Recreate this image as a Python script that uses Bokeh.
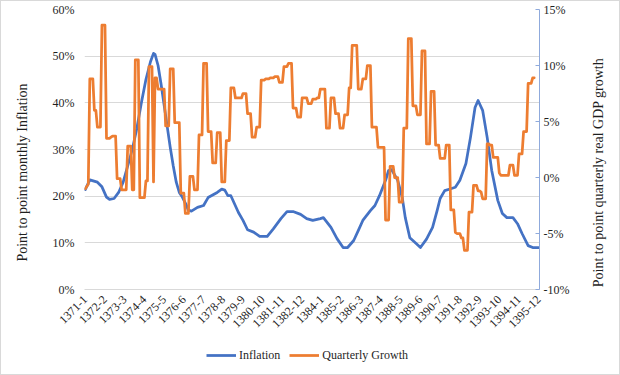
import math
import numpy as np
from bokeh.plotting import figure
from bokeh.layouts import column, row
from bokeh.models import (Range1d, LinearAxis, FixedTicker, PrintfTickFormatter,
                          Legend, LegendItem, Label)
from bokeh.embed import file_html
from bokeh.resources import INLINE

# ---------------- data ----------------
# x-axis tick labels (Persian year-month), one every 13 months
TICK_LABELS = ["1371-1", "1372-2", "1373-3", "1374-4", "1375-5", "1376-6", "1377-7",
               "1378-8", "1379-9", "1380-10", "1381-11", "1382-12", "1384-1", "1385-2",
               "1386-3", "1387-4", "1388-5", "1389-6", "1390-7", "1391-8", "1392-9",
               "1393-10", "1394-11", "1395-12"]
TICK_MONTH = [0, 13, 26, 39, 52, 65, 78, 91, 104, 117, 130, 143, 156, 169,
              182, 195, 208, 221, 234, 247, 260, 273, 286, 299]

# Point to point monthly inflation (%), month index since 1371-1
INF_MONTH = [0, 3, 8, 11, 14, 16, 19, 22, 25, 28, 31, 34, 37, 40, 43, 45, 46, 48, 50, 52,
             54, 56, 58, 60, 62, 64, 66, 68, 70, 74, 78, 81, 87, 90, 92, 94, 96, 101, 104,
             107, 111, 115, 120, 124, 129, 133, 137, 142, 146, 150, 155, 157, 162, 166,
             170, 173, 177, 180, 183, 188, 191, 194, 198, 200, 202, 206, 209, 211, 214,
             218, 221, 225, 229, 232, 234, 237, 241, 244, 247, 251, 254, 257, 259, 262,
             265, 268, 272, 275, 278, 282, 285, 288, 292, 295, 299]
INF_VAL = [21.4, 23.5, 23.0, 22.0, 19.8, 19.3, 19.5, 20.8, 23.0, 26.5, 30.0, 34.5, 40.0,
           45.0, 48.8, 50.6, 50.4, 48.0, 44.0, 39.5, 35.0, 30.5, 26.5, 23.0, 20.8, 19.8,
           18.5, 17.0, 16.8, 17.6, 18.0, 19.7, 20.8, 21.5, 21.3, 20.1, 20.1, 16.5, 14.8,
           12.8, 12.3, 11.4, 11.4, 13.0, 15.2, 16.7, 16.7, 16.1, 15.2, 14.8, 15.2, 15.4,
           13.3, 10.9, 9.0, 9.0, 10.5, 12.6, 14.8, 16.9, 18.0, 20.1, 23.4, 25.5, 25.7,
           23.4, 19.7, 15.4, 11.1, 9.9, 9.0, 10.8, 13.3, 16.9, 19.5, 21.2, 21.6, 21.9,
           23.4, 27.0, 32.6, 39.0, 40.5, 38.4, 32.6, 25.5, 19.1, 16.3, 15.4, 15.4, 14.1,
           12.0, 9.4, 9.0, 9.0]

# Point to point quarterly real GDP growth (%), one value per month from 1371-1
GDP_VAL = [
    -1.0, -0.8, -0.6,                     # 0-2
    8.8, 8.8, 8.8,                        # 3-5
    6.0, 6.0,                             # 6-7
    4.5, 4.5, 4.5,                        # 8-10
    13.6, 13.6, 13.6,                     # 11-13
    3.5, 3.5, 3.5, 3.6, 3.7, 3.7, 3.7,    # 14-20
    -0.1, -0.1, -0.1,                     # 21-23
    -1.1, -1.1, -1.1, -1.1,               # 24-27
    2.8, 2.8, 2.8,                        # 28-30
    -1.1, -1.1,                           # 31-32
    10.5, 10.5, 10.5,                     # 33-35
    -1.8, -1.8, -1.8, -1.8,               # 36-39
    -0.3, -0.3,                           # 40-41
    9.9, 9.9, 9.9,                        # 42-44
    -0.4,                                 # 45
    8.9, 8.9,                             # 46-47
    7.9, 7.9, 7.9, 7.9, 7.9,              # 48-52
    4.6, 4.6, 4.6,                        # 53-55
    9.7, 9.7, 9.7,                        # 56-58
    4.9, 4.9, 4.9, 4.9,                   # 59-62
    -1.4, -1.4, -1.4,                     # 63-65
    -3.2, -3.2, -3.2,                     # 66-68
    0.1, 0.1, 0.1,                        # 69-71
    -1.1, -1.1, -1.1,                     # 72-74
    3.8, 3.8, 3.8,                        # 75-77
    10.2, 10.2, 10.2,                     # 78-80
    4.1, 4.1, 4.1,                        # 81-83
    1.3, 1.3, 1.3,                        # 84-86
    4.0, 4.0, 4.0,                        # 87-89
    -0.4, -0.4, -0.4,                     # 90-92
    3.3, 3.3, 3.3,                        # 93-95
    8.0, 8.0, 8.0,                        # 96-98
    7.1, 7.1, 7.1, 7.1, 7.1,              # 99-103
    7.5, 7.5, 7.5,                        # 104-106
    5.7, 5.7, 5.7,                        # 107-109
    3.6, 3.6, 3.6,                        # 110-112
    4.5, 4.5, 4.5,                        # 113-115
    8.7, 8.7, 8.7,                        # 116-118
    8.8, 8.8, 8.8,                        # 119-121
    8.9, 8.9, 8.9, 9.0, 9.0, 9.0,         # 122-127
    8.5, 8.5, 8.5,                        # 128-130
    9.9, 9.9, 9.9,                        # 131-133
    10.2, 10.2, 10.2,                     # 134-136
    6.2, 6.2, 6.2,                        # 137-139
    5.4, 5.4, 5.4,                        # 140-142
    7.1, 7.1, 7.1, 7.1,                   # 143-146
    6.6, 6.6, 6.6,                        # 147-149
    7.0, 7.0, 7.0, 7.1, 7.1,              # 150-154
    7.9, 7.9, 7.9, 7.9,                   # 155-158
    4.4, 4.4, 4.4,                        # 159-161
    7.1, 7.1, 7.1,                        # 162-164
    5.7, 5.7, 5.7,                        # 165-167
    4.4, 4.4, 4.4,                        # 168-170
    5.6, 5.6, 5.6,                        # 171-173
    8.0, 8.0,                             # 174-175
    11.8, 11.8, 11.8, 11.8,               # 176-179
    7.9, 7.9, 7.9,                        # 180-182
    8.8, 8.8, 8.8,                        # 183-185
    10.0, 10.0, 10.0,                     # 186-188
    4.5, 4.5, 4.5, 4.5,                   # 189-192
    2.7, 2.7, 2.7, 2.7, 2.7,              # 193-197
    -3.8, -3.8, -3.8,                     # 198-200
    1.0, 1.0, 1.0,                        # 201-203
    0.0, 0.0, 0.0,                        # 204-206
    -2.2, -2.2, -2.2,                     # 207-209
    4.4, 4.4, 4.4,                        # 210-212
    12.4, 12.4, 12.4,                     # 213-215
    6.4, 6.4, 6.4,                        # 216-218
    5.6, 5.6, 5.6,                        # 219-221
    11.3, 11.3, 11.3,                     # 222-224
    3.0, 3.0, 3.0,                        # 225-227
    7.7, 7.7, 7.7,                        # 228-230
    2.9, 2.9, 2.9,                        # 231-233
    1.7, 1.7, 1.7, 1.7,                   # 234-237
    2.9, 2.9, 2.9,                        # 238-240
    -2.9, -2.9, -2.9,                     # 241-243
    -4.9, -5.0, -5.0, -5.0,               # 244-247
    -5.4, -5.4,                           # 248-249
    -6.5, -6.5, -6.5,                     # 250-252
    -3.1, -3.1, -3.1,                     # 253-255
    -0.7, -0.7, -0.7,                     # 256-258
    -1.2, -1.2, -1.3,                     # 259-261
    -1.9, -1.9, -1.9,                     # 262-264
    3.0, 3.0, 2.9, 2.9,                   # 265-268
    1.8, 1.8, 1.8, 1.8,                   # 269-272
    0.4, 0.2, 0.2, 0.2, 0.2, 0.2, 0.2,    # 273-279
    1.1, 1.1, 1.1,                        # 280-282
    0.2, 0.2, 0.2,                        # 283-285
    2.1, 2.1, 2.1,                        # 286-288
    4.1, 4.1, 4.1,                        # 289-291
    8.4, 8.4, 8.4,                        # 292-294
    8.9, 8.9,                             # 295-296
]
GDP_MONTH = list(range(len(GDP_VAL)))

LEFT_TICKS = [0, 10, 20, 30, 40, 50, 60]
RIGHT_TICKS = [-10, -5, 0, 5, 10, 15]

SERIES_NAMES = ["Inflation", "Quarterly Growth"]
SERIES_COLORS = ["#4472C4", "#ED7D31"]
LEFT_TITLE = "Point to point monthly Inflation"
RIGHT_TITLE = "Point to point quarterly real GDP growth"

# ---------------- layout constants (pixels inside the 1px chart border) ----------------
W = 618                                   # 620 minus the border on both sides
H_MAIN, H_LEG = 340, 33
STRIP_L, STRIP_R = 40, 38                 # side strips holding the axis titles
FRAME_L, FRAME_R, FRAME_T, FRAME_B = 83, 538, 8, 288
FONT = "'Liberation Serif', 'Times New Roman', serif"
TXT = "#1f1f1f"


def blank(width, height, x0, x1, y0, y1, bl=0, br=0, bt=0, bb=0):
    f = figure(width=width, height=height, output_backend="svg",
               toolbar_location=None, x_range=Range1d(x0, x1), y_range=Range1d(y0, y1),
               min_border_left=bl, min_border_right=br, min_border_top=bt,
               min_border_bottom=bb, background_fill_color="white",
               border_fill_color="white")
    f.outline_line_color = None
    f.axis.visible = False
    f.grid.visible = False
    return f


# ---------------- main chart ----------------
p = figure(width=W - STRIP_L - STRIP_R, height=H_MAIN, output_backend="svg",
           toolbar_location=None,
           x_range=Range1d(-0.5, 299.5), y_range=Range1d(0, 60),
           min_border_left=FRAME_L - STRIP_L, min_border_right=W - STRIP_R - FRAME_R,
           min_border_top=FRAME_T, min_border_bottom=H_MAIN - FRAME_B,
           background_fill_color="white", border_fill_color="white")
p.outline_line_color = None
p.extra_y_ranges = {"gdp": Range1d(-10, 15)}

p.xgrid.visible = False
p.ygrid.grid_line_color = "#D9D9D9"
p.ygrid.grid_line_width = 1

yl = p.yaxis[0]
yl.ticker = FixedTicker(ticks=LEFT_TICKS)
yl.formatter = PrintfTickFormatter(format="%d%%")
yl.axis_line_color = None
yl.major_tick_line_color = None
yl.minor_tick_line_color = None
yl.major_label_standoff = 4
yl.major_label_text_font = FONT
yl.major_label_text_font_size = "12px"
yl.major_label_text_color = TXT

xa = p.xaxis[0]
xa.ticker = FixedTicker(ticks=TICK_MONTH)
xa.major_label_overrides = {m: lab for m, lab in zip(TICK_MONTH, TICK_LABELS)}
xa.major_label_orientation = math.pi / 4
xa.axis_line_color = "#D9D9D9"
xa.major_tick_line_color = None
xa.minor_tick_line_color = None
xa.major_label_standoff = 2
xa.major_label_text_font = FONT
xa.major_label_text_font_size = "12px"
xa.major_label_text_color = TXT

yr = LinearAxis(y_range_name="gdp", ticker=FixedTicker(ticks=RIGHT_TICKS),
                formatter=PrintfTickFormatter(format="%d%%"))
yr.axis_line_color = "#8FAADC"
yr.major_tick_line_color = "#8FAADC"
yr.major_tick_in = 4
yr.major_tick_out = 0
yr.minor_tick_line_color = None
yr.major_label_standoff = 4
yr.major_label_text_font = FONT
yr.major_label_text_font_size = "12px"
yr.major_label_text_color = TXT
p.add_layout(yr, "right")

p.line(INF_MONTH, INF_VAL, line_color=SERIES_COLORS[0], line_width=2.75,
       line_join="round", line_cap="round")
p.line(GDP_MONTH, GDP_VAL, line_color=SERIES_COLORS[1], line_width=2.75,
       line_join="round", line_cap="round", y_range_name="gdp")

# ---------------- side strips with the axis titles ----------------
# y data = -(pixel y), frames share the main chart's vertical extent
lt = blank(STRIP_L, H_MAIN, 0, STRIP_L, -FRAME_B, -FRAME_T,
           bt=FRAME_T, bb=H_MAIN - FRAME_B)
lt.add_layout(Label(x=21, y=-171, text=LEFT_TITLE, angle=math.pi / 2,
                    text_align="center", text_baseline="middle", text_font=FONT,
                    text_font_size="14px", text_color=TXT))

rt = blank(STRIP_R, H_MAIN, W - STRIP_R, W, -FRAME_B, -FRAME_T,
           bt=FRAME_T, bb=H_MAIN - FRAME_B)
rt.add_layout(Label(x=597, y=-171, text=RIGHT_TITLE, angle=math.pi / 2,
                    text_align="center", text_baseline="middle", text_font=FONT,
                    text_font_size="14px", text_color=TXT))

# ---------------- legend strip below ----------------
lg = blank(W, H_LEG, 0, 1, 0, 1, bl=FRAME_L, br=W - FRAME_R)
items = []
for name, col in zip(SERIES_NAMES, SERIES_COLORS):
    r = lg.line([-5, -4], [-5, -5], line_color=col, line_width=2.75)
    items.append(LegendItem(label=name, renderers=[r]))
legend = Legend(items=items, location=(205 - FRAME_L, 9), orientation="horizontal",
                padding=0, margin=0, spacing=9, label_standoff=3, glyph_width=30,
                glyph_height=20, label_height=20, border_line_color=None,
                background_fill_alpha=0, label_text_font=FONT,
                label_text_font_size="12px", label_text_color=TXT)
lg.add_layout(legend)

layout = column(row(lt, p, rt, spacing=0), lg, spacing=0,
                styles={"border": "1px solid #D9D9D9"})
open("out.html", "w").write(file_html(layout, INLINE))
